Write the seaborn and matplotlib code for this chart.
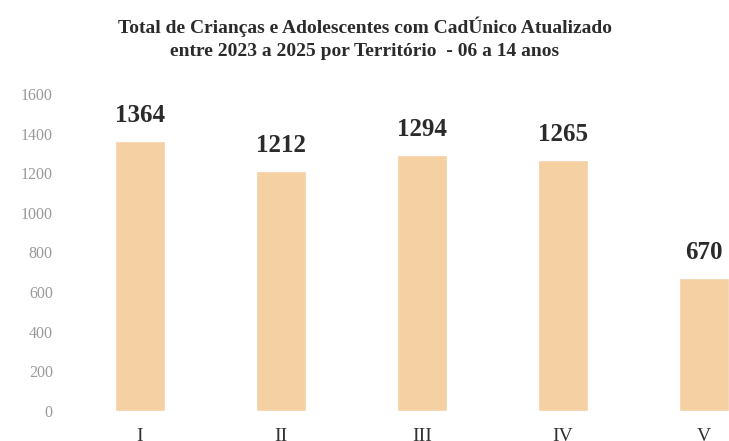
import matplotlib
matplotlib.use('Agg')
import matplotlib.pyplot as plt
import seaborn as sns

# dados por território
territorios = ['I', 'II', 'III', 'IV', 'V']
totais = [1364, 1212, 1294, 1265, 670]

titulo = ('Total de Crianças e Adolescentes com CadÚnico Atualizado\n'
          'entre 2023 a 2025 por Território  - 06 a 14 anos')

sns.set_style('white')
plt.rcParams['font.family'] = ['Liberation Serif', 'DejaVu Serif']

fig = plt.figure(figsize=(7.29, 4.41), dpi=100)
# the original picture is cropped on the right and bottom
ax = fig.add_axes([0.0953, 0.068, 0.967, 0.719])

sns.barplot(x=territorios, y=totais, color='#F4D0A2', width=0.35,
            saturation=1, ax=ax)

ax.set_ylim(0, 1600)
ax.set_xlim(-0.5, 4.5)
ax.set_yticks(range(0, 1601, 200))
ax.tick_params(axis='y', labelsize=11.5, labelcolor='#999999', length=0, pad=12)
ax.tick_params(axis='x', labelsize=14, labelcolor='#333333', length=0, pad=12)
ax.set(xlabel='', ylabel='')
sns.despine(ax=ax, left=True, bottom=True)

for bar, total in zip(ax.patches, totais):
    x = bar.get_x() + bar.get_width() / 2.0
    ax.annotate(f'{total}', (x, bar.get_height()), xytext=(0, 10),
                textcoords='offset points', ha='center', va='bottom',
                fontsize=18, fontweight='bold', color='#2b2b2b',
                annotation_clip=False)

fig.text(0.5, 0.963, titulo, ha='center', va='top', fontsize=14,
         fontweight='bold', color='#2b2b2b', linespacing=1.5)

fig.savefig('out.png', dpi=100)
